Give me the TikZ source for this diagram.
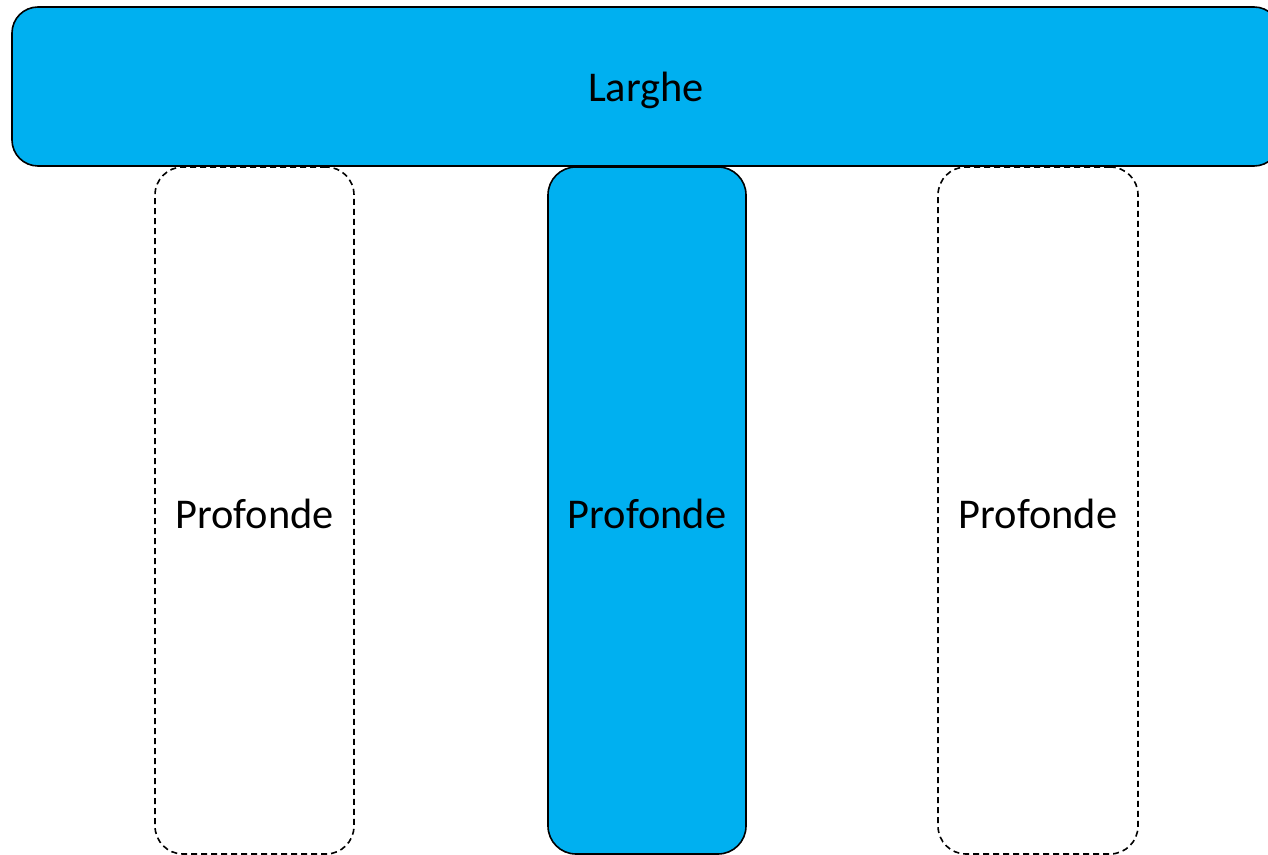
\documentclass[tikz,border=0pt]{standalone}
\usepackage{fontspec}
\setmainfont{Carlito}
\usepackage{tikz}
\newlength{\px}
\setlength{\px}{0.5pt}
\definecolor{officeblue}{HTML}{00B0F0}
\tikzset{
	label/.style={font=\fontsize{21.2}{25}\selectfont, anchor=base, inner sep=0pt},
	bar/.style={draw=black, line width=1.6\px, rounded corners=26\px, fill=officeblue},
	gap/.style={draw=black, line width=1.6\px, dash pattern=on 6\px off 4\px, rounded corners=28\px}
}

\begin{document}
\begin{tikzpicture}[x=\px, y=-\px]
	\useasboundingbox (0,0) rectangle (1268,855);
	\clip (0,0) rectangle (1268,855);

	\node[bar, minimum width=1268\px, minimum height=159\px] (larghe) at (646,86.5) {};
	\node[label] at ([yshift=-15.5\px]larghe.center) {Larghe};

	\node[gap, minimum width=199\px, minimum height=687\px] (profsx) at (254.5,510.5) {};
	\node[bar, rounded corners=28\px, minimum width=198\px, minimum height=687\px] (profc) at (647,510.5) {};
	\node[gap, minimum width=200\px, minimum height=687\px] (profdx) at (1038,510.5) {};

	\node[label] at ([yshift=-17.5\px]profsx.center) {Profonde};
	\node[label] at ([yshift=-17.5\px]profc.center) {Profonde};
	\node[label] at ([yshift=-17.5\px]profdx.center) {Profonde};
\end{tikzpicture}
\end{document}
